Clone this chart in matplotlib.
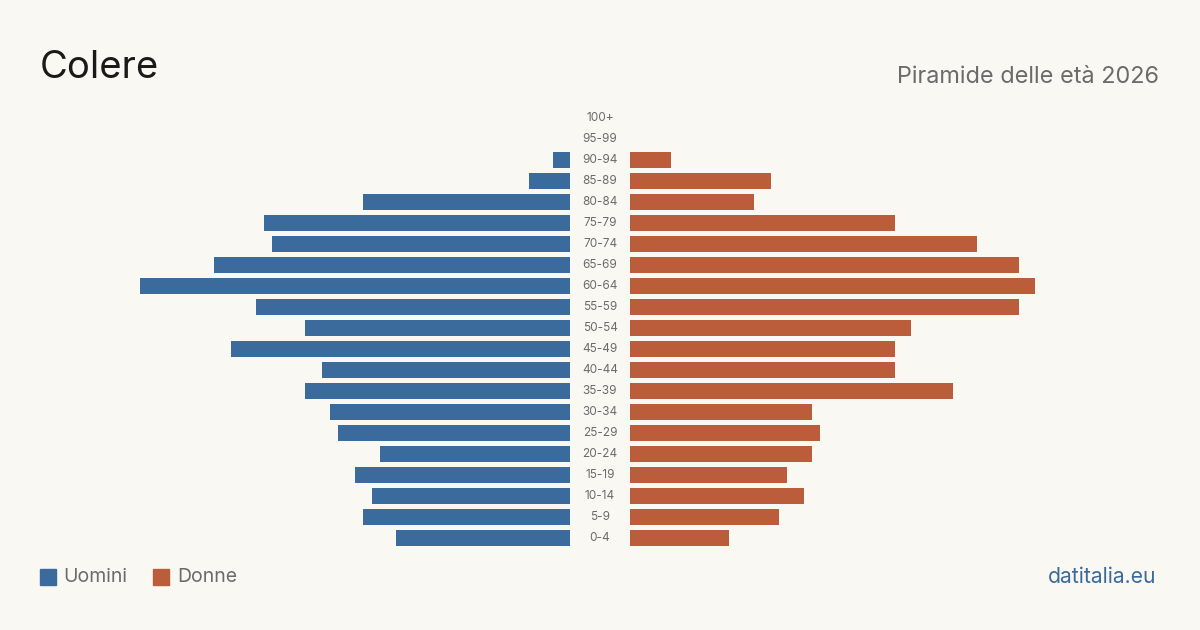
import matplotlib
matplotlib.use("Agg")
import matplotlib.pyplot as plt
from matplotlib.patches import Rectangle

plt.rcParams['font.family'] = ['Inter', 'DejaVu Sans']

age_groups = ["0-4", "5-9", "10-14", "15-19", "20-24", "25-29", "30-34", "35-39",
              "40-44", "45-49", "50-54", "55-59", "60-64", "65-69", "70-74", "75-79",
              "80-84", "85-89", "90-94", "95-99", "100+"]
men = [21, 25, 24, 26, 23, 28, 29, 32, 30, 41, 32, 38, 52, 43, 36, 37, 25, 5, 2, 0, 0]
women = [12, 18, 21, 19, 22, 23, 22, 39, 32, 32, 34, 47, 49, 47, 42, 32, 15, 17, 5, 0, 0]

title = "Colere"
subtitle = "Piramide delle età 2026"
legend_labels = ["Uomini", "Donne"]
source = "datitalia.eu"

BG = "#faf8f3"
BLUE = "#3b6b9c"
ORANGE = "#bb5c3b"
GRAY = "#6b6b6b"

W, H = 1200, 630
fig = plt.figure(figsize=(12, 6.3), dpi=100, facecolor=BG)

xmax = 52
bottom = 1 - 548.5 / H
height = 441 / H
axL = fig.add_axes([140 / W, bottom, 430 / W, height])
axR = fig.add_axes([630 / W, bottom, 430 / W, height])

ys = list(range(len(age_groups)))
axL.barh(ys, men, height=0.8, color=BLUE)
axR.barh(ys, women, height=0.8, color=ORANGE)
axL.set_xlim(xmax, 0)
axR.set_xlim(0, xmax)
for ax in (axL, axR):
    ax.set_ylim(-0.5, len(age_groups) - 0.5)
    ax.axis("off")
    ax.set_facecolor("none")

# age labels centered between the two axes
for i, lab in enumerate(age_groups):
    yfig = bottom + height * (i + 0.5) / len(age_groups)
    fig.text(600 / W, yfig, lab, ha="center", va="center", fontsize=8.5, color=GRAY)

fig.text(40 / W, 1 - 68 / H, title, ha="left", va="center", fontsize=27.5, color="#1a1a1a")
fig.text(1159 / W, 1 - 77 / H, subtitle, ha="right", va="center", fontsize=16.9, color=GRAY)

# legend
fig.patches.append(Rectangle((40 / W, 1 - 585 / H), 16 / W, 16 / H, transform=fig.transFigure,
                             color=BLUE, figure=fig))
fig.text(63 / W, 1 - 577 / H, legend_labels[0], ha="left", va="center", fontsize=14, color=GRAY)
fig.patches.append(Rectangle((153 / W, 1 - 585 / H), 16 / W, 16 / H, transform=fig.transFigure,
                             color=ORANGE, figure=fig))
fig.text(177 / W, 1 - 577 / H, legend_labels[1], ha="left", va="center", fontsize=14, color=GRAY)

fig.text(1156 / W, 1 - 577 / H, source, ha="right", va="center", fontsize=15.2, color=BLUE)

fig.savefig("out.png", dpi=100, facecolor=BG)
